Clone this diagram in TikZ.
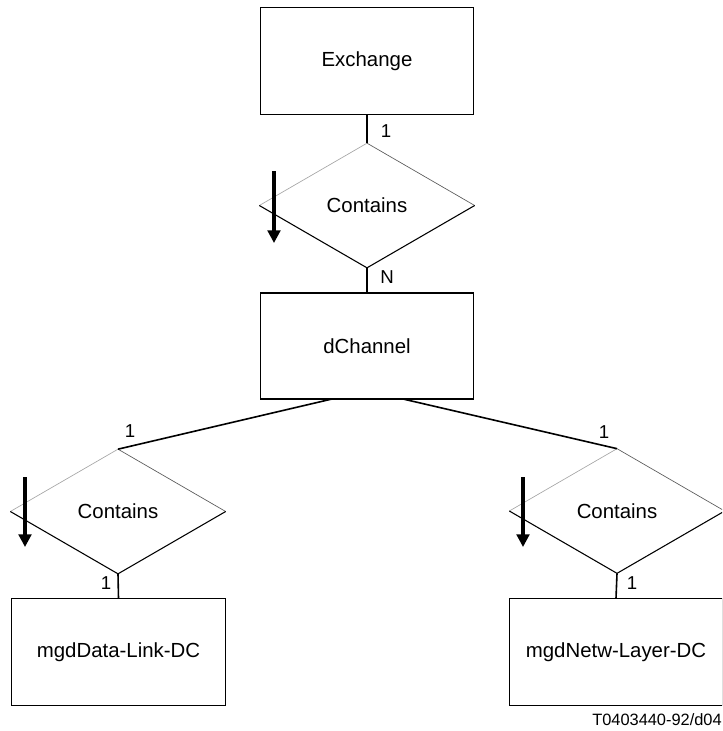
\documentclass[tikz,border=0pt]{standalone}
\usepackage{fontspec}
\setmainfont{Liberation Sans}
\usetikzlibrary{shapes.geometric,arrows.meta}
\begin{document}
\begin{tikzpicture}[x=0.75pt,y=-0.75pt,
  entity/.style={draw, line width=0.8pt, minimum width=160pt, minimum height=80.5pt,
    inner sep=0pt, outer sep=0pt, font=\fontsize{15.3}{18}\selectfont},
  relation/.style={shape=diamond, draw=none, minimum width=161.5pt, minimum height=93.5pt,
    inner sep=0pt, outer sep=0pt, font=\fontsize{15.3}{18}\selectfont},
  link/.style={line width=1.2pt},
  card/.style={inner sep=0pt, font=\fontsize{14}{16}\selectfont},
  dirarrow/.style={line width=2.3pt, -{Triangle[width=9.5pt,length=9.5pt]}},
  upedgeL/.style={draw=black!35, line width=0.5pt},
  upedgeR/.style={draw=black!65, line width=0.5pt},
  lowedge/.style={draw=black, line width=0.8pt}
]
\useasboundingbox (0,0) rectangle (722,731);
\clip (0,0) rectangle (722,731);

% entities
\node[entity] (exch) at (367,61) {Exchange};
\node[entity, minimum height=79.5pt] (dch) at (367,346) {dChannel};
\node[entity] (dlink) at (118.5,652) {mgdData-Link-DC};
\node[entity] (nlayer) at (616,652) {mgdNetw-Layer-DC};

% relationships
\node[relation] (rel0) at (367,205.5) {Contains};
\node[relation] (rel1) at (118,511.5) {Contains};
\node[relation] (rel2) at (617,511) {Contains};

% diamond outlines: light upper edges, dark lower edges
\foreach \r in {rel0,rel1,rel2}{
  \draw[upedgeL] (\r.west) -- (\r.north);
  \draw[upedgeR] (\r.north) -- (\r.east);
  \draw[lowedge] (\r.east) -- (\r.south) -- (\r.west);
}

% connectors
\draw[link] (exch.south) -- (rel0.north);
\draw[link] (rel0.south) -- (dch.north);
\draw[link] ([xshift=-26.25pt]dch.south) -- (rel1.north);
\draw[link] ([xshift=27pt]dch.south) -- (rel2.north);
\draw[link] (rel1.south) -- (dlink.north);
\draw[link] (rel2.south) -- (nlayer.north);

% cardinalities
\node[card] (k0) at (386,131.5) {1};
\node[card] (k1) at (387,277) {N};
\node[card] (k2) at (130,431) {1};
\node[card] (k3) at (604,432) {1};
\node[card] (k4) at (106,583) {1};
\node[card] (k5) at (632,583) {1};

% direction arrows
\coordinate (a0s) at (274,171); \coordinate (a0e) at (274,243);
\coordinate (a1s) at (25,477);  \coordinate (a1e) at (25,547);
\coordinate (a2s) at (523,477); \coordinate (a2e) at (523,547);
\draw[dirarrow] (a0s) -- (a0e);
\draw[dirarrow] (a1s) -- (a1e);
\draw[dirarrow] (a2s) -- (a2e);

% figure reference
\node[anchor=east, inner sep=0pt, font=\fontsize{12.3}{14}\selectfont] (figref) at (722,719.5) {T0403440-92/d04};
\end{tikzpicture}
\end{document}
